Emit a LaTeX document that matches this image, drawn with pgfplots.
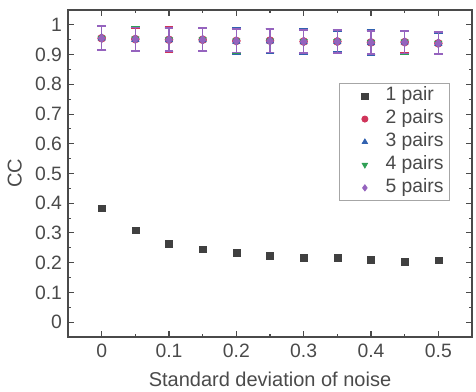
\documentclass[border=0pt]{standalone}
\usepackage{pgfplots}
\pgfplotsset{compat=1.18}
\usepackage{fontspec}
\setmainfont{Liberation Sans}
\definecolor{c1}{HTML}{404040}
\definecolor{c2}{HTML}{D0345A}
\definecolor{c3}{HTML}{3262B0}
\definecolor{c4}{HTML}{2FA055}
\definecolor{c5}{HTML}{9563BE}
\definecolor{ax}{HTML}{4A4A4A}
\begin{document}
\begin{tikzpicture}
\path[use as bounding box] (-51pt,-41.25pt) rectangle (306pt,252.75pt);
\begin{axis}[
  at={(0pt,0pt)}, anchor=south west,
  scale only axis,
  width=303pt, height=245.25pt,
  xmin=-0.05, xmax=0.55, ymin=-0.05, ymax=1.05,
  xtick={0,0.1,...,0.5}, ytick={0,0.1,...,1},
  minor xtick={-0.05,0.05,0.15,...,0.45,0.55},
  minor ytick={-0.05,0.05,0.15,...,0.95,1.05},
  xticklabels={0,0.1,0.2,0.3,0.4,0.5},
  yticklabels={0,0.1,0.2,0.3,0.4,0.5,0.6,0.7,0.8,0.9,1},
  tick align=inside,
  major tick length=4.5pt, minor tick length=2.5pt,
  tick style={ax, line width=0.8pt},
  axis line style={ax, line width=0.9pt},
  tick label style={font=\fontsize{14.5}{17}\selectfont, text=ax},
  xticklabel style={yshift=-2pt},
  yticklabel style={xshift=-1pt},
  label style={font=\fontsize{15}{18}\selectfont, text=ax},
  xlabel={Standard deviation of noise},
  ylabel={CC},
  xlabel style={at={(axis description cs:0.5,-0.1305)}, anchor=center},
  ylabel style={at={(axis description cs:-0.132,0.5)}, anchor=center},
  /pgf/number format/assume math mode=true,
  legend style={at={(axis description cs:0.9455,0.777)}, anchor=north east,
    draw=gray!70, line width=0.6pt,
    font=\fontsize{14.5}{17}\selectfont, text=ax, inner xsep=2.5pt, inner ysep=1pt,
    row sep=0pt, column sep=0pt,
    nodes={text height=10.5pt, text depth=3.2pt, inner ysep=1.75pt}},
  legend cell align=left,
  legend image code/.code={\path[draw=none, fill=none] (0pt,-2pt) rectangle (30pt,2pt);
     \draw[#1, mark size=2.3pt] plot coordinates {(16.5pt,0pt)};},
  error bars/y dir=both, error bars/y explicit,
]
\addplot[only marks, mark=square*, mark size=2.6pt, c1, error bars/draw error bar/.code={}] coordinates {
(0,0.383) (0.05,0.309) (0.1,0.263) (0.15,0.245) (0.2,0.233) (0.25,0.224)
(0.3,0.218) (0.35,0.215) (0.4,0.210) (0.45,0.203) (0.5,0.208)};
\addlegendentry{1 pair}
\addplot[only marks, mark=*, mark size=3pt, c2,
  error bars/error bar style={line width=1pt, c2}, error bars/error mark options={rotate=90, mark size=3.3pt, line width=1.3pt}] coordinates {
(0,0.955) +- (0,0.040) (0.05,0.952) +- (0,0.038) (0.1,0.950) +- (0,0.042) (0.15,0.950) +- (0,0.040)
(0.2,0.946) +- (0,0.042) (0.25,0.947) +- (0,0.040) (0.3,0.944) +- (0,0.040) (0.35,0.944) +- (0,0.040)
(0.4,0.941) +- (0,0.038) (0.45,0.942) +- (0,0.036) (0.5,0.938) +- (0,0.036)};
\addlegendentry{2 pairs}
\addplot[only marks, mark=triangle*, mark size=3.2pt, c3,
  error bars/error bar style={line width=1pt, c3}, error bars/error mark options={rotate=90, mark size=3.3pt, line width=1.3pt}] coordinates {
(0,0.956) +- (0,0.042) (0.05,0.951) +- (0,0.040) (0.1,0.950) +- (0,0.038) (0.15,0.950) +- (0,0.038)
(0.2,0.945) +- (0,0.044) (0.25,0.946) +- (0,0.040) (0.3,0.943) +- (0,0.042) (0.35,0.944) +- (0,0.036)
(0.4,0.940) +- (0,0.042) (0.45,0.942) +- (0,0.038) (0.5,0.937) +- (0,0.036)};
\addlegendentry{3 pairs}
\addplot[only marks, mark=triangle*, mark options={rotate=180}, mark size=3.2pt, c4,
  error bars/error bar style={line width=1pt, c4}, error bars/error mark options={rotate=90, mark size=3.3pt, line width=1.3pt}] coordinates {
(0,0.955) +- (0,0.041) (0.05,0.952) +- (0,0.040) (0.1,0.950) +- (0,0.040) (0.15,0.950) +- (0,0.039)
(0.2,0.946) +- (0,0.040) (0.25,0.946) +- (0,0.039) (0.3,0.944) +- (0,0.039) (0.35,0.944) +- (0,0.038)
(0.4,0.941) +- (0,0.040) (0.45,0.942) +- (0,0.039) (0.5,0.938) +- (0,0.037)};
\addlegendentry{4 pairs}
\addplot[only marks, mark=diamond*, mark size=3.4pt, c5,
  error bars/error bar style={line width=1pt, c5}, error bars/error mark options={rotate=90, mark size=3.3pt, line width=1.3pt}] coordinates {
(0,0.955) +- (0,0.040) (0.05,0.952) +- (0,0.039) (0.1,0.950) +- (0,0.039) (0.15,0.950) +- (0,0.039)
(0.2,0.946) +- (0,0.039) (0.25,0.946) +- (0,0.039) (0.3,0.944) +- (0,0.038) (0.35,0.944) +- (0,0.038)
(0.4,0.941) +- (0,0.038) (0.45,0.942) +- (0,0.038) (0.5,0.938) +- (0,0.037)};
\addlegendentry{5 pairs}
\end{axis}
\end{tikzpicture}
\end{document}
